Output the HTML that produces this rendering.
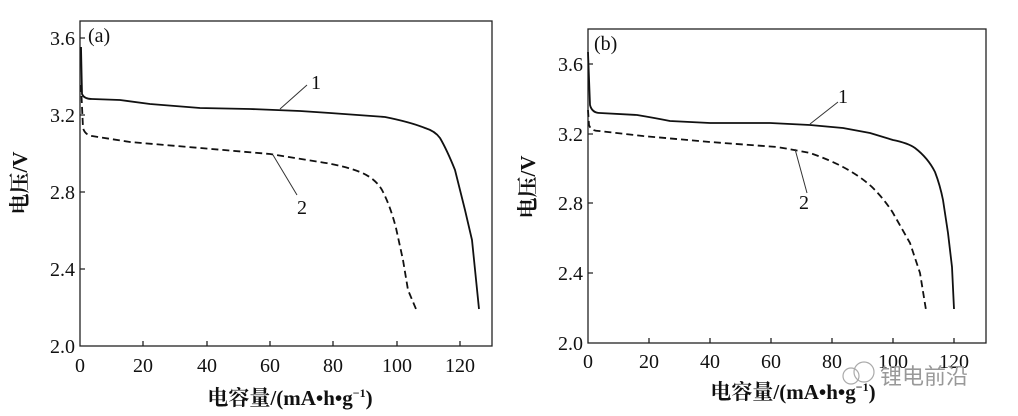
<!DOCTYPE html>
<html><head><meta charset="utf-8"><style>
html,body{margin:0;padding:0;background:#fff}
svg{display:block}
text{font-family:"Liberation Serif","Noto Serif CJK SC",serif;fill:#111}
</style></head><body>
<svg width="1018" height="416" viewBox="0 0 1018 416" xmlns="http://www.w3.org/2000/svg">
<g stroke="#222" fill="none" stroke-width="1.3">
<rect x="80" y="21" width="412" height="325"/>
<path d="M143,346v-5M207,346v-5M270,346v-5M333,346v-5M397,346v-5M460,346v-5M80,269h5M80,192h5M80,115h5M80,38h5"/>
<rect x="588" y="29" width="398" height="314"/>
<path d="M649,343v-5M710,343v-5M771,343v-5M832,343v-5M893,343v-5M954,343v-5M588,273h5M588,203h5M588,134h5M588,64h5"/>
</g>
<g fill="none" stroke="#111" stroke-width="1.8" stroke-linejoin="round">
<path d="M81,47 L82,94 Q84,99 92,99 L120,100 Q135,102 150,104 L200,108 L250,109 L300,111 L330,113 L385,117 Q410,122 425,128 Q435,131 440,138 Q447,150 455,170 L465,210 L472,240 L479,309"/>
<path stroke-dasharray="7,4" d="M81,85 L83,128 Q85,135 92,136 L130,142 L200,148 L270,154 L320,162 Q345,166 360,172 Q375,178 382,190 Q390,205 396,228 L403,260 L408,290 L416,309"/>
<path d="M588,52 L590,105 Q592,113 600,113 L637,115 Q655,118 670,121 L710,123 L770,123 L810,125 L843,128 L870,133 L893,140 Q908,143 915,148 Q928,158 935,172 Q940,185 943,200 L948,233 L952,267 L954,309"/>
<path stroke-dasharray="7,4" d="M588,110 L589,125 Q591,131 599,131 L643,136 L710,142 L777,147 Q795,150 810,153 Q830,160 843,167 Q860,176 872,187 Q885,200 893,213 L910,243 L920,273 L926,310"/>
</g>
<g stroke="#333" stroke-width="1">
<path d="M280,109 L307,85M273,155 L297,195M810,124 L838,102M795,149 L807,193"/>
</g>
<g font-size="20">
<text x="311" y="89">1</text><text x="297" y="214">2</text>
<text x="838" y="103">1</text><text x="799" y="209">2</text>
<text x="88" y="42">(a)</text><text x="594" y="50">(b)</text>
</g>
<g font-size="20" text-anchor="end">
<text x="75" y="353">2.0</text><text x="75" y="276">2.4</text><text x="75" y="199">2.8</text><text x="75" y="122">3.2</text><text x="75" y="45">3.6</text>
<text x="583" y="350">2.0</text><text x="583" y="280">2.4</text><text x="583" y="210">2.8</text><text x="583" y="141">3.2</text><text x="583" y="71">3.6</text>
</g>
<g font-size="20" text-anchor="middle">
<text x="80" y="372">0</text><text x="143" y="372">20</text><text x="207" y="372">40</text><text x="270" y="372">60</text><text x="333" y="372">80</text><text x="397" y="372">100</text><text x="460" y="372">120</text>
<text x="588" y="368">0</text><text x="649" y="368">20</text><text x="710" y="368">40</text><text x="771" y="368">60</text><text x="832" y="368">80</text><text x="893" y="368">100</text><text x="954" y="368">120</text>
<text x="290" y="405" font-size="21" font-weight="bold">电容量/(mA•h•g<tspan font-size="12" dy="-8">−1</tspan><tspan dy="8">)</tspan></text>
<text x="793" y="399" font-size="21" font-weight="bold">电容量/(mA•h•g<tspan font-size="12" dy="-8">−1</tspan><tspan dy="8">)</tspan></text>
<text transform="translate(27,183) rotate(-90)" font-size="21" font-weight="bold">电压/V</text>
<text transform="translate(535,187) rotate(-90)" font-size="21" font-weight="bold">电压/V</text>
</g>
<g stroke="#aaa" fill="none" stroke-width="1.2">
<circle cx="851" cy="376" r="8"/><circle cx="864" cy="372" r="10"/>
</g>
<text x="880" y="384" font-size="22" style="fill:#999;font-family:'Noto Sans CJK SC',sans-serif">锂电前沿</text>
</svg>
</body></html>
